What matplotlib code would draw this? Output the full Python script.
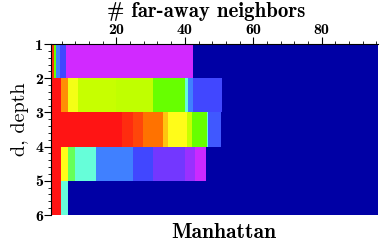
import matplotlib
matplotlib.use("Agg")
import matplotlib.pyplot as plt
from matplotlib.colors import LinearSegmentedColormap, Normalize
from matplotlib.ticker import MultipleLocator, FixedLocator
import numpy as np

# ---- data: per depth row, segment edges (# far-away neighbors) and colour values
depths = [1, 2, 3, 4, 5]
row1_edges = [1, 1.6, 2.2, 3.4, 5.1, 42.3]
row1_vals = [0.3, 4, 6, 7, 9]
row2_edges = [1, 3.9, 5.8, 8.8, 20, 30.7, 40, 41, 42.3, 51]
row2_vals = [0, 1.2, 2.2, 3.0, 3.07, 4, 5, 6, 7]
row3_edges = [1, 21.5, 24.8, 27.8, 33.6, 35, 40.5, 42, 46.4, 46.8, 50.7]
row3_vals = [0, 0.25, 0.55, 1, 1.6, 2, 3, 4, 5, 6.7]
row4_edges = [1, 3.9, 5.7, 8.0, 13.9, 24.9, 30.7, 40, 42.9, 46.1]
row4_vals = [0, 2, 4.4, 5, 6, 7, 7.8, 8.3, 8.9]
row5_edges = [1, 3.9, 5.7]
row5_vals = [0, 5]
x_ticks = [20, 40, 60, 80]
y_ticks = [1, 2, 3, 4, 5, 6]

rows = [(row1_edges, row1_vals), (row2_edges, row2_vals), (row3_edges, row3_vals),
        (row4_edges, row4_vals), (row5_edges, row5_vals)]

colors = [(1, 0.08, 0.08), (1, 0.45, 0), (1, 1, 0.1), (0.78, 1, 0), (0.4, 1, 0),
          (0.4, 1, 0.85), (0.25, 0.5, 1), (0.25, 0.28, 1), (0.5, 0.2, 1), (0.82, 0.16, 1)]
cmap = LinearSegmentedColormap.from_list("rb", colors)
norm = Normalize(0, 9)

fig = plt.figure(figsize=(3.82, 2.45), dpi=100)
ax = fig.add_axes([0.1348, 0.1224, 0.8547, 0.698])
ax.set_facecolor("#0000A5")

for d, (edges, vals) in zip(depths, rows):
    e = np.array(edges, dtype=float)
    ax.barh(d + 0.5, np.diff(e), left=e[:-1], height=1.0,
            color=[cmap(norm(v)) for v in vals], linewidth=0, edgecolor="none")

ax.set_xlim(1, 96.5)
ax.set_ylim(6, 1)

ax.xaxis.tick_top()
ax.xaxis.set_major_locator(FixedLocator(x_ticks))
ax.xaxis.set_minor_locator(MultipleLocator(4))
ax.yaxis.set_major_locator(FixedLocator(y_ticks))
ax.yaxis.set_minor_locator(MultipleLocator(0.2))
ax.tick_params(axis="x", which="both", top=True, bottom=False, direction="out", pad=0)
ax.tick_params(axis="y", which="both", left=True, right=False, direction="out", pad=1)
ax.tick_params(which="major", length=5, width=0.8)
ax.tick_params(which="minor", length=2.5, width=0.6)
for s in ["bottom", "right"]:
    ax.spines[s].set_visible(False)

for lab in ax.get_xticklabels() + ax.get_yticklabels():
    lab.set_fontfamily("cmb10")
    lab.set_fontsize(11.5)

fig.text(0.54, 0.955, "# far-away neighbors", ha="center", va="center", family="cmb10", size=15)
fig.text(0.052, 0.515, "d, depth", ha="center", va="center", rotation=90, family="cmr10", size=14.5)
fig.text(0.587, 0.05, "Manhattan", ha="center", va="center", family="cmb10", size=15.5)

fig.savefig("out.png", dpi=100)
